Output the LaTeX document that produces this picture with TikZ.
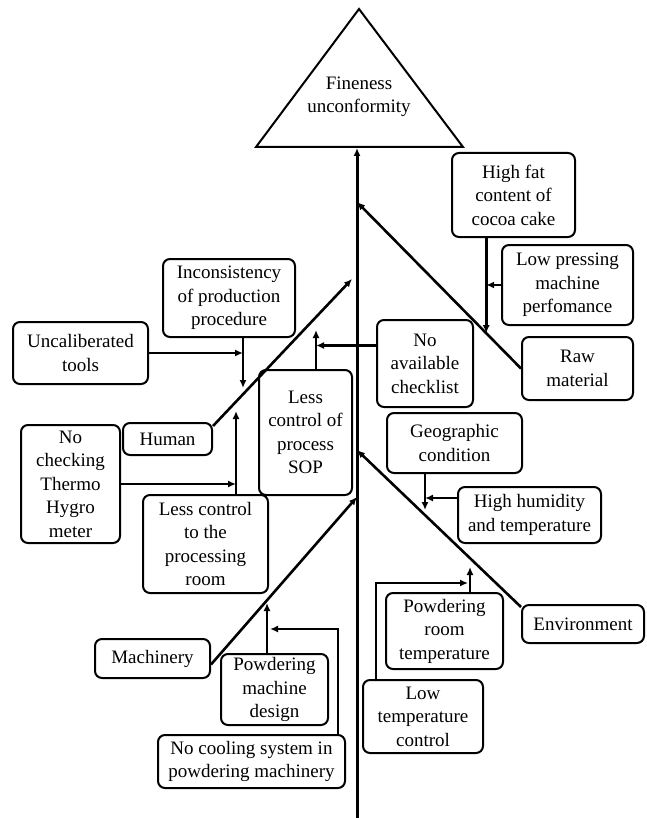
\documentclass[tikz,border=0pt]{standalone}
\usepackage{fontspec}
\setmainfont{Liberation Serif}
\newfontfamily\serifa{Liberation Serif}
\usepackage{tikz}
\usetikzlibrary{arrows.meta,calc}

\begin{document}
\begin{tikzpicture}[
  x=1pt, y=-1pt, >={Latex[length=8pt,width=7pt]},
  texto/.style={align=center, font=\serifa\fontsize{19}{23.5}\selectfont},
  caixa/.style={texto, draw, rounded corners=7pt, line width=2pt, inner sep=1pt},
  seta/.style={->, line width=2.6pt},
  espinha/.style={->, line width=3pt}]
  \useasboundingbox (0,0) rectangle (646,818);

  % efeito
  \draw[line width=2pt, line join=miter] (256,147) -- (359,9) -- (463,147) -- cycle;
  \node[texto] (ef) at (359,97) {Fineness\\unconformity};

  % causas
  \node[caixa, minimum width=123pt, minimum height=84pt] (fat) at (513.5,195) {High fat\\content of\\cocoa cake};
  \node[caixa, minimum width=131pt, minimum height=80pt] (press) at (567.5,285) {Low pressing\\machine\\perfomance};
  \node[caixa, minimum width=111pt, minimum height=63pt] (raw) at (577.5,368.5) {Raw\\material};
  \node[caixa, minimum width=96pt, minimum height=87pt] (chk) at (425,363.5) {No\\available\\checklist};
  \node[caixa, minimum width=93pt, minimum height=125pt] (sop) at (305.5,432.5) {Less\\control of\\process\\SOP};
  \node[caixa, minimum width=132pt, minimum height=78pt] (inc) at (229,298) {Inconsistency\\of production\\procedure};
  \node[caixa, minimum width=135pt, minimum height=62pt] (cal) at (80.5,353) {Uncaliberated\\tools};
  \node[caixa, minimum width=89pt, minimum height=32pt] (hum) at (167.5,439) {Human};
  \node[caixa, minimum width=99pt, minimum height=118pt] (thg) at (70.5,484) {No\\checking\\Thermo\\Hygro\\meter};
  \node[caixa, minimum width=125pt, minimum height=98pt] (room) at (205.5,544) {Less control\\to the\\processing\\room};
  \node[caixa, minimum width=115pt, minimum height=39pt] (mach) at (152.5,658.5) {Machinery};
  \node[caixa, minimum width=107pt, minimum height=71pt] (pmd) at (274.5,689.5) {Powdering\\machine\\design};
  \node[caixa, minimum width=187pt, minimum height=53pt] (cool) at (251.5,761.5) {No cooling system in\\powdering machinery};
  \node[caixa, minimum width=135pt, minimum height=60pt] (geo) at (454.5,443) {Geographic\\condition};
  \node[caixa, minimum width=143pt, minimum height=56pt] (humid) at (529.5,515) {High humidity\\and temperature};
  \node[caixa, minimum width=122pt, minimum height=38pt] (env) at (583,624) {Environment};
  \node[caixa, minimum width=117pt, minimum height=76pt] (prt) at (444.5,631) {Powdering\\room\\temperature};
  \node[caixa, minimum width=120pt, minimum height=73pt] (lowt) at (423,716.5) {Low\\temperature\\control};

  % espinha
  \coordinate (base) at (357,148);
  \coordinate (pe) at (357,818);
  \coordinate (sRaw) at (357,202);
  \coordinate (sEnv) at (357,450);
  \coordinate (sMac) at (357,497);
  \coordinate (tHum) at (352,279);
  \draw[espinha] (pe) -- (base);

  % material
  \coordinate (jFat) at ($(sRaw)!0.788!(raw.west)$);
  \draw[seta] (raw.west) -- (sRaw);
  \draw[seta] (fat.south -| jFat) -- (jFat);
  \draw[seta] (press.west) -- (press.west -| jFat);

  % humano
  \coordinate (tInc) at (243,388);
  \coordinate (tRoom) at (236,411);
  \coordinate (tSop) at (316,330);
  \draw[seta] ([yshift=-4pt]hum.north east) -- (tHum);
  \draw[seta] (inc.south -| tInc) -- (tInc);
  \draw[seta] (cal.east) -- (cal.east -| tInc);
  \draw[seta] (room.north -| tRoom) -- (tRoom);
  \draw[seta] (thg.east) -- (thg.east -| tRoom);
  \draw[seta] (sop.north -| tSop) -- (tSop);
  \draw[seta] ([yshift=18pt]chk.west) -- ([yshift=18pt]chk.west -| tSop);

  % maquinas
  \coordinate (tPmd) at (267,603);
  \coordinate (tCool) at (270,629);
  \draw[seta] ([yshift=-6pt]mach.east) -- (sMac);
  \draw[seta] (pmd.north -| tPmd) -- (tPmd);
  \draw[seta] ([xshift=-8pt]cool.north east) |- (tCool);

  % ambiente
  \coordinate (tGeo) at (425,510);
  \coordinate (tPrt) at (470,567);
  \coordinate (tLow) at (468,583);
  \draw[seta] ([yshift=-3pt]env.north west) -- (sEnv);
  \draw[seta] (geo.south -| tGeo) -- (tGeo);
  \draw[seta] ([yshift=17pt]humid.west) -- ([yshift=17pt]humid.west -| tGeo);
  \draw[seta] (prt.north -| tPrt) -- (tPrt);
  \draw[seta] ([xshift=14pt]lowt.north west) |- (tLow);
\end{tikzpicture}
\end{document}
